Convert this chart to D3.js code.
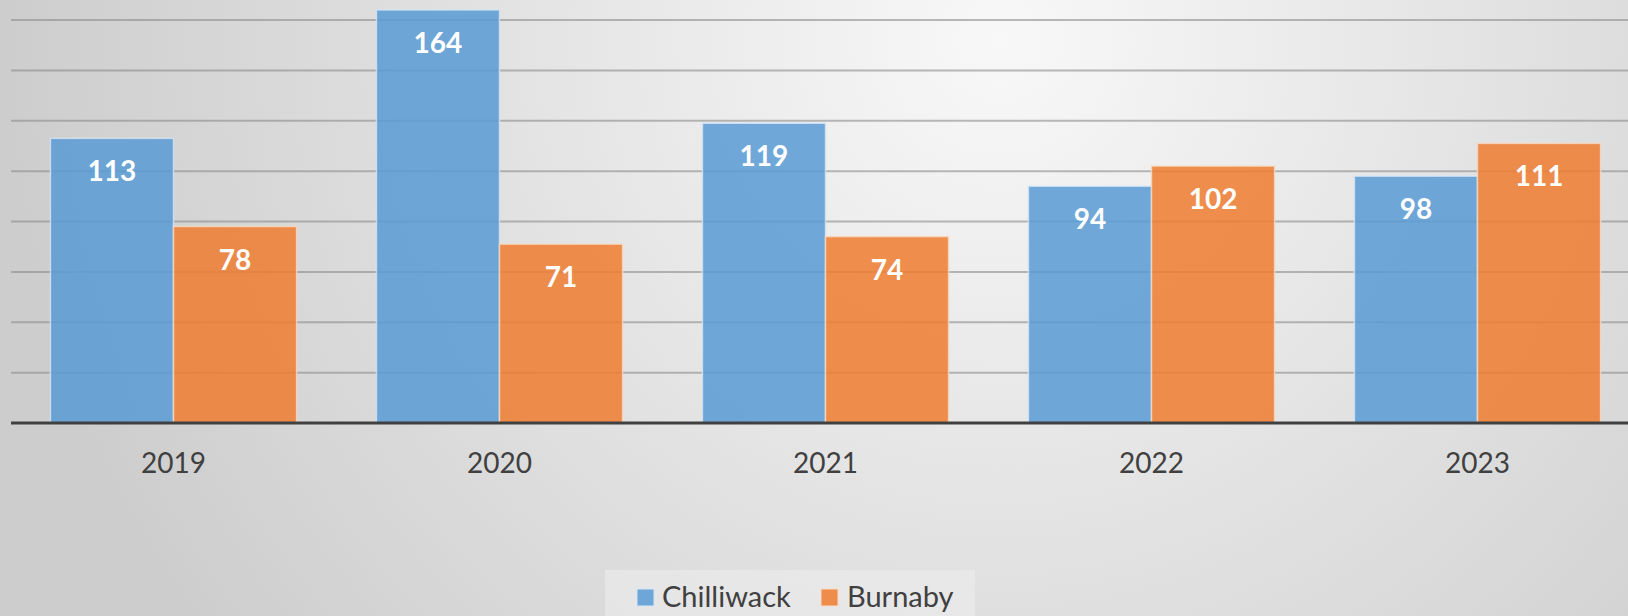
<!DOCTYPE html>
<html><head><meta charset="utf-8">
<script src="https://cdn.jsdelivr.net/npm/d3@7"></script>
<style>html,body{margin:0;padding:0;overflow:hidden;background:#ddd}svg{display:block}</style>
</head><body>
<script>
const categories = ["2019","2020","2021","2022","2023"];
const seriesNames = ["Chilliwack","Burnaby"];
const chilliwack = [113,164,119,94,98];
const burnaby = [78,71,74,102,111];
const yTicks = [0,20,40,60,80,100,120,140,160];

const W = 1628, H = 616;
const colors = ["#5B9BD5","#ED7D31"];
const svg = d3.select("body").append("svg").attr("width",W).attr("height",H);
const defs = svg.append("defs");
const rg = defs.append("radialGradient").attr("id","bg").attr("gradientUnits","userSpaceOnUse")
  .attr("cx",1000).attr("cy",40).attr("r",1000);
rg.append("stop").attr("offset","0").attr("stop-color","#f8f8f8");
rg.append("stop").attr("offset","1").attr("stop-color","#cdcdcd");
svg.append("rect").attr("width",W).attr("height",H).attr("fill","url(#bg)");

const x0 = d3.scaleBand().domain(categories).range([10.5,1640.5]).paddingInner(0.245).paddingOuter(0.1225);
const x1 = d3.scaleBand().domain(seriesNames).range([0,x0.bandwidth()]);
const y = d3.scaleLinear().domain([0,160]).range([423,20]);

// gridlines
svg.append("g").selectAll("line").data(yTicks.filter(d=>d>0)).join("line")
  .attr("x1",11).attr("x2",W).attr("y1",d=>y(d)).attr("y2",d=>y(d))
  .attr("stroke","#8c8c8c").attr("stroke-opacity",0.6).attr("stroke-width",2);

const data = categories.map((c,i)=>({cat:c, vals:[chilliwack[i],burnaby[i]]}));
const groups = svg.append("g").selectAll("g").data(data).join("g")
  .attr("transform",d=>`translate(${x0(d.cat)},0)`);
groups.selectAll("rect").data(d=>d.vals.map((v,j)=>({v,s:seriesNames[j],j}))).join("rect")
  .attr("x",d=>x1(d.s)).attr("width",x1.bandwidth())
  .attr("y",d=>y(d.v)).attr("height",d=>y(0)-y(d.v))
  .attr("fill",d=>colors[d.j]).attr("fill-opacity",0.86)
  .attr("stroke",d=>d.j===0?"#d6e6f4":"#f9d9c4").attr("stroke-width",1.5).attr("stroke-opacity",0.8);
groups.selectAll("text").data(d=>d.vals.map((v,j)=>({v,s:seriesNames[j],j}))).join("text")
  .attr("x",d=>x1(d.s)+x1.bandwidth()/2).attr("y",d=>y(d.v)+43)
  .attr("text-anchor","middle").attr("fill","#fff").attr("font-family","Lato, 'Open Sans', sans-serif")
  .attr("font-weight","bold").attr("font-size",28).text(d=>d.v);

// x axis
const ax = svg.append("g").attr("transform",`translate(0,${y(0)})`).call(d3.axisBottom(x0).tickSize(0).tickPadding(0));
ax.select(".domain").remove();
svg.append("line").attr("x1",11).attr("x2",W).attr("y1",y(0)).attr("y2",y(0)).attr("stroke","#404040").attr("stroke-width",3);
ax.selectAll("text").attr("dy",null).attr("y",50).attr("fill","#404040")
  .attr("font-family","Lato, 'Open Sans', sans-serif").attr("font-size",28);

// legend
const lg = svg.append("g");
lg.append("rect").attr("x",605).attr("y",570).attr("width",370).attr("height",50).attr("fill","#ececec").attr("fill-opacity",0.6);
const items = [{n:seriesNames[0],x:637,tx:662},{n:seriesNames[1],x:821,tx:847}];
items.forEach((it,j)=>{
  lg.append("rect").attr("x",it.x).attr("y",589).attr("width",17).attr("height",17).attr("fill",colors[j]).attr("fill-opacity",0.86)
    .attr("stroke",j===0?"#d6e6f4":"#f9d9c4").attr("stroke-width",1);
  lg.append("text").attr("x",it.tx).attr("y",607).attr("fill","#404040")
    .attr("font-family","Lato, 'Open Sans', sans-serif").attr("font-size",29).text(it.n);
});
</script>
</body></html>
